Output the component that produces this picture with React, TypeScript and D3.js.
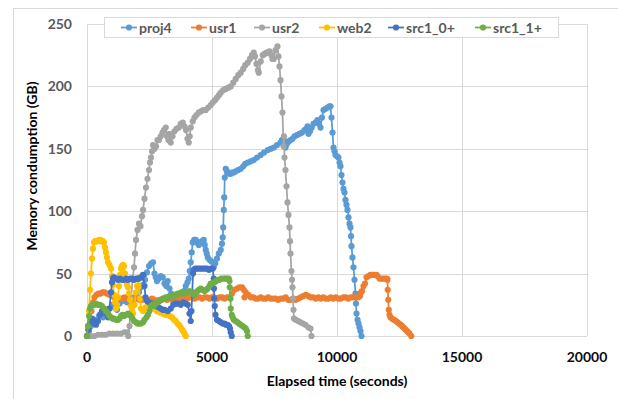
import React from "react";
import * as d3 from "d3";

type P = [number, number];

const seriesNames = ["proj4", "usr1", "usr2", "web2", "src1_0+", "src1_1+"];
const seriesColors = ["#5B9BD5", "#ED7D31", "#A5A5A5", "#FFC000", "#4472C4", "#70AD47"];
const xTicks = [0, 5000, 10000, 15000, 20000];
const yTicks = [0, 50, 100, 150, 200, 250];

const proj4: P[] = [[0,0],[80,4],[160,8],[240,11],[320,13],[400,12],[480,16],[560,18],[640,15],[720,17],[800,20],[900,22],[1000,25],[1100,23],[1200,21],[1300,26],[1400,28],[1500,30],[1600,27],[1700,29],[1800,27],[1900,31],[2000,33],[2080,35],[2160,39],[2240,41],[2320,45],[2400,51],[2480,56],[2560,58],[2640,59],[2700,50],[2750,47],[2800,44],[2870,46],[2950,48],[3030,47],[3100,42],[3170,40],[3230,44],[3300,38],[3370,34],[3430,31],[3500,30],[3570,33],[3650,30],[3730,28],[3800,32],[3880,36],[3950,40],[4020,43],[4070,46],[4110,52],[4150,59],[4190,67],[4230,75],[4290,77],[4350,77],[4410,75],[4470,73],[4540,75],[4600,76],[4670,77],[4710,73],[4750,69],[4790,66],[4830,63],[4900,61],[4960,60],[5030,59],[5070,55],[5130,58],[5200,62],[5270,66],[5350,69],[5400,74],[5430,79],[5450,87],[5470,101],[5490,111],[5510,127],[5550,134],[5600,132],[5650,131],[5700,130],[5750,130],[5800,131],[5870,131],[5950,132],[6050,133],[6150,134],[6250,136],[6330,138],[6430,139],[6550,140],[6670,141],[6800,143],[6950,145],[7080,147],[7230,149],[7350,150],[7470,151],[7600,153],[7740,155],[7800,157],[7860,158],[7940,151],[8000,154],[8070,156],[8140,157],[8220,158],[8300,160],[8400,161],[8500,162],[8600,163],[8700,165],[8780,166],[8820,168],[8860,162],[8920,164],[8990,167],[9060,170],[9140,171],[9220,173],[9280,170],[9340,167],[9400,175],[9460,181],[9540,182],[9620,183],[9700,184],[9740,184],[9780,175],[9820,163],[9860,151],[9900,148],[9940,145],[10000,144],[10060,143],[10100,139],[10140,136],[10180,129],[10220,123],[10260,118],[10300,115],[10340,109],[10380,105],[10420,101],[10460,95],[10500,90],[10540,87],[10560,80],[10580,72],[10620,63],[10660,55],[10700,45],[10740,34],[10760,26],[10780,18],[10820,13],[10860,10],[10900,7],[10940,4],[10980,0]];

const usr1: P[] = [[0,0],[60,5],[120,12],[180,20],[240,27],[300,31],[380,33],[460,34],[540,34],[620,35],[700,35],[800,34],[900,33],[1000,32],[1100,31],[1200,30],[1300,30],[1400,30],[1500,31],[1600,30],[1700,30],[1800,29],[1900,30],[2000,30],[2100,29],[2200,29],[2300,30],[2400,29],[2500,29],[2600,30],[2700,29],[2800,28],[2900,29],[3000,29],[3100,30],[3200,29],[3300,30],[3400,29],[3500,30],[3600,31],[3700,30],[3800,31],[3900,31],[4000,30],[4100,31],[4200,31],[4300,30],[4400,31],[4500,31],[4600,30],[4700,31],[4800,31],[4900,30],[5000,31],[5100,31],[5200,30],[5300,31],[5400,31],[5500,30],[5600,31],[5700,31],[5800,34],[5900,37],[6000,38],[6100,39],[6200,39],[6270,37],[6300,31],[6350,35],[6450,33],[6550,31],[6650,31],[6750,30],[6850,30],[6950,31],[7050,30],[7150,30],[7250,31],[7350,30],[7450,30],[7550,30],[7650,29],[7750,30],[7850,30],[7950,31],[8050,29],[8150,29],[8250,30],[8350,29],[8450,30],[8550,31],[8650,32],[8750,33],[8850,32],[8950,31],[9050,31],[9150,30],[9250,31],[9350,30],[9450,31],[9550,30],[9650,30],[9750,31],[9850,30],[9950,31],[10050,30],[10150,30],[10250,31],[10350,31],[10450,30],[10550,31],[10650,31],[10750,31],[10850,31],[10920,32],[10960,35],[11000,36],[11060,40],[11120,42],[11180,47],[11260,48],[11340,49],[11420,49],[11500,49],[11580,49],[11620,48],[11700,46],[11780,46],[11860,46],[11940,46],[12000,46],[12020,45],[12030,37],[12050,29],[12070,21],[12100,17],[12140,15],[12200,14],[12280,13],[12360,12],[12420,11],[12480,10],[12550,9],[12600,8],[12650,7],[12700,6],[12750,5],[12800,4],[12850,3],[12900,2],[12970,0]];

const usr2: P[] = [[0,0],[150,0],[300,0],[450,1],[600,1],[750,1],[900,2],[1050,2],[1200,2],[1350,2],[1500,3],[1600,3],[1650,0],[1700,8],[1760,30],[1820,45],[1880,55],[1920,66],[1960,77],[2020,85],[2080,90],[2140,88],[2200,96],[2240,101],[2300,110],[2360,119],[2420,126],[2480,133],[2520,139],[2560,143],[2600,148],[2640,153],[2700,150],[2760,152],[2820,157],[2880,157],[2950,160],[3020,163],[3080,165],[3150,167],[3200,160],[3260,157],[3300,162],[3350,155],[3420,160],[3500,164],[3580,166],[3670,167],[3750,170],[3830,171],[3900,168],[3960,165],[4020,158],[4070,155],[4110,160],[4150,167],[4230,172],[4300,175],[4380,177],[4470,179],[4560,180],[4650,181],[4750,181],[4850,183],[4950,185],[5030,187],[5120,189],[5200,191],[5280,193],[5350,195],[5450,197],[5550,198],[5650,199],[5750,200],[5850,203],[5950,206],[6050,209],[6150,211],[6250,214],[6330,217],[6430,219],[6520,222],[6600,225],[6670,227],[6720,224],[6780,218],[6840,213],[6870,211],[6950,220],[7030,225],[7100,226],[7180,227],[7230,227],[7300,228],[7380,225],[7420,222],[7470,222],[7540,229],[7620,232],[7660,224],[7700,216],[7740,205],[7780,192],[7820,179],[7860,152],[7880,160],[7900,143],[7940,133],[7980,120],[8020,107],[8060,97],[8100,87],[8120,76],[8140,66],[8180,52],[8200,45],[8220,39],[8240,30],[8260,21],[8280,14],[8350,13],[8450,12],[8540,11],[8640,10],[8740,9],[8850,7],[8940,6],[8980,0]];

const web2: P[] = [[0,0],[40,8],[80,20],[120,37],[160,50],[200,62],[240,70],[280,75],[330,76],[380,76],[430,76],[480,77],[530,77],[580,76],[630,76],[680,75],[720,71],[760,67],[800,63],[840,59],[900,57],[960,54],[1000,48],[1040,41],[1080,33],[1120,27],[1160,22],[1200,25],[1240,31],[1280,40],[1320,49],[1360,54],[1400,56],[1440,57],[1480,56],[1520,50],[1560,45],[1600,41],[1640,39],[1680,34],[1720,29],[1760,24],[1800,20],[1840,18],[1900,25],[1960,35],[2000,40],[2040,46],[2080,40],[2120,30],[2160,22],[2240,20],[2350,23],[2440,25],[2550,24],[2670,22],[2800,20],[2900,19],[3030,18],[3130,17],[3230,17],[3320,16],[3400,15],[3480,13],[3550,12],[3620,10],[3680,9],[3750,7],[3800,5],[3850,4],[3900,2],[3950,0]];

const src10: P[] = [[0,0],[60,5],[120,10],[200,14],[280,12],[360,9],[440,12],[520,17],[600,20],[680,22],[760,18],[840,15],[900,22],[960,35],[1000,43],[1040,46],[1080,47],[1160,46],[1240,45],[1320,46],[1400,45],[1480,45],[1560,46],[1640,45],[1720,46],[1800,46],[1880,45],[1960,46],[2040,46],[2080,46],[2160,47],[2240,49],[2300,40],[2340,31],[2400,28],[2480,27],[2560,26],[2670,26],[2760,24],[2860,23],[2950,22],[3030,21],[3100,21],[3230,20],[3350,22],[3450,25],[3550,26],[3630,26],[3750,25],[3850,27],[3950,26],[4030,25],[4100,18],[4150,12],[4180,20],[4210,35],[4240,50],[4270,53],[4330,54],[4400,54],[4480,54],[4560,54],[4640,54],[4720,54],[4800,54],[4880,53],[4960,54],[5030,54],[5070,46],[5080,38],[5090,30],[5110,24],[5140,17],[5200,13],[5280,12],[5350,11],[5430,10],[5500,10],[5560,9],[5620,9],[5680,8],[5720,6],[5750,3],[5790,0]];

const src11: P[] = [[0,0],[40,8],[80,16],[120,22],[160,24],[220,25],[280,25],[360,26],[440,25],[520,25],[600,24],[680,22],[760,20],[840,18],[900,16],[960,15],[1020,14],[1080,14],[1160,13],[1240,13],[1300,14],[1360,16],[1420,17],[1480,16],[1560,17],[1640,18],[1700,17],[1760,16],[1820,14],[1880,12],[1960,11],[2020,10],[2080,10],[2160,10],[2240,11],[2300,13],[2380,15],[2440,17],[2500,20],[2560,24],[2620,25],[2670,24],[2750,26],[2830,27],[2900,28],[2950,29],[3030,30],[3100,30],[3160,31],[3230,31],[3300,32],[3360,32],[3430,31],[3500,33],[3560,33],[3630,34],[3700,34],[3780,35],[3860,34],[3940,35],[4030,35],[4100,36],[4150,35],[4230,34],[4300,33],[4350,34],[4420,36],[4480,37],[4550,38],[4620,37],[4700,36],[4770,37],[4830,38],[4900,40],[4950,42],[5020,42],[5100,43],[5160,44],[5230,45],[5300,45],[5380,46],[5470,46],[5540,46],[5600,46],[5670,46],[5700,44],[5710,39],[5740,30],[5750,22],[5790,17],[5830,15],[5870,13],[5950,12],[6020,11],[6080,10],[6150,9],[6220,8],[6290,7],[6350,6],[6400,4],[6430,0]];

const seriesData: P[][] = [proj4, usr1, usr2, web2, src10, src11];

const legendStarts = [121, 191, 254, 319, 388, 475];

const W = 618, H = 399;
const FONT = "Lato, 'Open Sans', sans-serif";

export default function App() {
  const x = d3.scaleLinear().domain([0, 20000]).range([87, 587]);
  const y = d3.scaleLinear().domain([0, 250]).range([336, 24]);
  const line = d3.line<P>().x(d => x(d[0])).y(d => y(d[1]));

  return (
    <svg width={W} height={H} style={{ position: "absolute", left: 0, top: 0, background: "#fff" }} fontFamily={FONT}>
      <rect x={0} y={0} width={W} height={H} fill="#fff" />
      <rect x={13.5} y={8.5} width={700} height={500} fill="none" stroke="#D9D9D9" />
      {yTicks.map(t => (
        <line key={"gy" + t} x1={x(0)} x2={x(20000)} y1={Math.round(y(t)) + 0.5} y2={Math.round(y(t)) + 0.5} stroke="#D9D9D9" />
      ))}
      {xTicks.map(t => (
        <line key={"gx" + t} x1={Math.round(x(t)) + 0.5} x2={Math.round(x(t)) + 0.5} y1={y(250)} y2={y(0)} stroke="#D9D9D9" />
      ))}
      {yTicks.map(t => (
        <text key={"ty" + t} x={72} y={y(t) + 5} textAnchor="end" fontSize={14} fontWeight="bold" fill="#595959">{t}</text>
      ))}
      {xTicks.map(t => (
        <text key={"tx" + t} x={x(t)} y={362} textAnchor="middle" fontSize={14} fontWeight="bold" fill="#0d0d0d">{t}</text>
      ))}
      <text x={337} y={386} textAnchor="middle" fontSize={14} fontWeight="bold" fill="#000">Elapsed time (seconds)</text>
      <text transform="translate(37,166) rotate(-90)" textAnchor="middle" fontSize={14} fontWeight="bold" fill="#000">Memory condumption (GB)</text>

      {seriesData.map((data, i) => (
        <g key={"s" + i}>
          <path d={line(data) || ""} fill="none" stroke={seriesColors[i]} strokeWidth={1.75} />
          {data.map((d, j) => (
            <circle key={j} cx={x(d[0])} cy={y(d[1])} r={3.1} fill={seriesColors[i]} />
          ))}
        </g>
      ))}

      <rect x={104.5} y={17.5} width={454} height={20} fill="#fff" stroke="#D9D9D9" />
      {seriesNames.map((n, i) => (
        <g key={"l" + i}>
          <line x1={legendStarts[i]} x2={legendStarts[i] + 16} y1={27.5} y2={27.5} stroke={seriesColors[i]} strokeWidth={1.75} />
          <circle cx={legendStarts[i] + 8} cy={27.5} r={3.1} fill={seriesColors[i]} />
          <text x={legendStarts[i] + 18} y={32.5} fontSize={14} fontWeight="bold" fill="#595959">{n}</text>
        </g>
      ))}
    </svg>
  );
}
